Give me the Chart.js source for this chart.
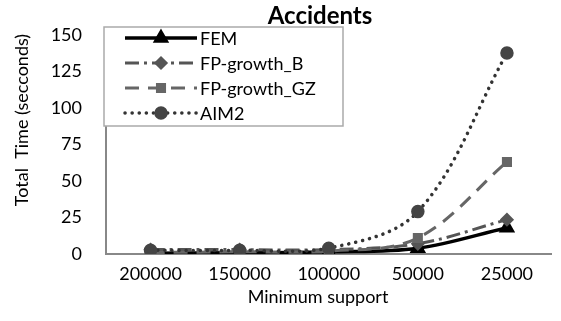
<!DOCTYPE html>
<html>
<head>
<meta charset="utf-8">
<script src="https://cdn.jsdelivr.net/npm/chart.js@4"></script>
<style>
  html, body { margin: 0; padding: 0; background: #fff; }
  #wrap { width: 561px; height: 321px; }
</style>
</head>
<body>
<div id="wrap"><canvas id="chart" width="561" height="321"></canvas></div>
<script>
const supports = ['200000', '150000', '100000', '50000', '25000'];
const fem = [0.5, 0.8, 1.5, 4, 18];
const fpGrowthB = [3, 3, 3, 7, 23.5];
const fpGrowthGZ = [1, 1.5, 2, 11, 63];
const aim2 = [2.5, 2.5, 4, 29, 137.5];
const yTicks = [0, 25, 50, 75, 100, 125, 150];

const FONT = 'Lato, "Open Sans", sans-serif';

// title, axis titles and the boxed legend, drawn like the Excel original
const extras = {
    id: 'extras',
    afterDraw(chart) {
        const ctx = chart.ctx;
        ctx.save();

        // legend box
        const bx = 104, by = 27, bw = 239, bh = 99;
        ctx.fillStyle = '#fff';
        ctx.fillRect(bx, by, bw, bh);
        ctx.strokeStyle = '#aaa';
        ctx.lineWidth = 1.5;
        ctx.strokeRect(bx, by, bw, bh);

        const rows = [38, 63, 88, 113];
        chart.data.datasets.forEach((ds, i) => {
            const y = rows[i];
            ctx.strokeStyle = ds.borderColor;
            ctx.lineWidth = ds.borderWidth;
            ctx.lineCap = ds.borderCapStyle || 'butt';
            ctx.setLineDash(ds.borderDash || []);
            ctx.beginPath();
            ctx.moveTo(125, y);
            ctx.lineTo(197, y);
            ctx.stroke();
            ctx.setLineDash([]);
            ctx.lineCap = 'butt';
            ctx.fillStyle = ds.pointBackgroundColor;
            ctx.strokeStyle = ds.pointBackgroundColor;
            Chart.helpers.drawPoint(ctx, {
                pointStyle: ds.pointStyle,
                radius: ds.pointRadius,
                borderWidth: 1
            }, 161, y);
            ctx.fillStyle = '#000';
            ctx.font = '18px ' + FONT;
            ctx.textAlign = 'left';
            ctx.textBaseline = 'middle';
            ctx.fillText(ds.label, 200, y + 1);
        });

        // chart title
        ctx.fillStyle = '#000';
        ctx.font = 'bold 24px ' + FONT;
        ctx.textAlign = 'center';
        ctx.textBaseline = 'middle';
        ctx.fillText('Accidents', 320, 16);

        // x-axis title
        ctx.font = '18px ' + FONT;
        ctx.fillText('Minimum support', 318, 297);

        // y-axis title
        ctx.translate(22, 120);
        ctx.rotate(-Math.PI / 2);
        ctx.fillText('Total  Time (secconds)', 0, 0);
        ctx.restore();
    }
};

new Chart(document.getElementById('chart'), {
    type: 'line',
    data: {
        labels: supports,
        datasets: [
            {
                label: 'FEM',
                data: fem,
                borderColor: '#000',
                borderWidth: 3.5,
                pointStyle: 'triangle',
                pointRadius: 6,
                pointBackgroundColor: '#000',
                pointBorderColor: '#000',
                order: 4
            },
            {
                label: 'FP-growth_B',
                data: fpGrowthB,
                borderColor: '#555',
                borderWidth: 3,
                borderDash: [14, 5, 3, 5],
                pointStyle: 'rectRot',
                pointRadius: 5,
                pointBackgroundColor: '#555',
                pointBorderColor: '#555',
                order: 3
            },
            {
                label: 'FP-growth_GZ',
                data: fpGrowthGZ,
                borderColor: '#666',
                borderWidth: 3,
                borderDash: [14, 9],
                pointStyle: 'rect',
                pointRadius: 5,
                pointBackgroundColor: '#666',
                pointBorderColor: '#666',
                order: 2
            },
            {
                label: 'AIM2',
                data: aim2,
                borderColor: '#333',
                borderWidth: 3.5,
                borderDash: [0.1, 7],
                borderCapStyle: 'round',
                pointStyle: 'circle',
                pointRadius: 5,
                pointBackgroundColor: '#444',
                pointBorderColor: '#444',
                order: 1
            }
        ]
    },
    options: {
        responsive: false,
        animation: false,
        layout: { padding: { top: 27, right: 0, left: 0, bottom: 0 } },
        elements: { line: { tension: 0.35, fill: false } },
        plugins: {
            legend: { display: false },
            title: { display: false },
            tooltip: { enabled: false }
        },
        scales: {
            x: {
                offset: true,
                grid: { display: false, drawTicks: false },
                border: { color: '#888', width: 2 },
                ticks: { color: '#000', font: { family: FONT, size: 18 }, padding: 9, maxRotation: 0 },
                afterFit(scale) { scale.height = 67; }
            },
            y: {
                min: 0,
                max: 150,
                afterBuildTicks(scale) { scale.ticks = yTicks.map(v => ({ value: v })); },
                grid: { display: false, drawTicks: false },
                border: { color: '#888', width: 2 },
                ticks: { color: '#000', font: { family: FONT, size: 18 }, padding: 24 },
                afterFit(scale) { scale.width = 106; }
            }
        }
    },
    plugins: [extras]
});
</script>
</body>
</html>
